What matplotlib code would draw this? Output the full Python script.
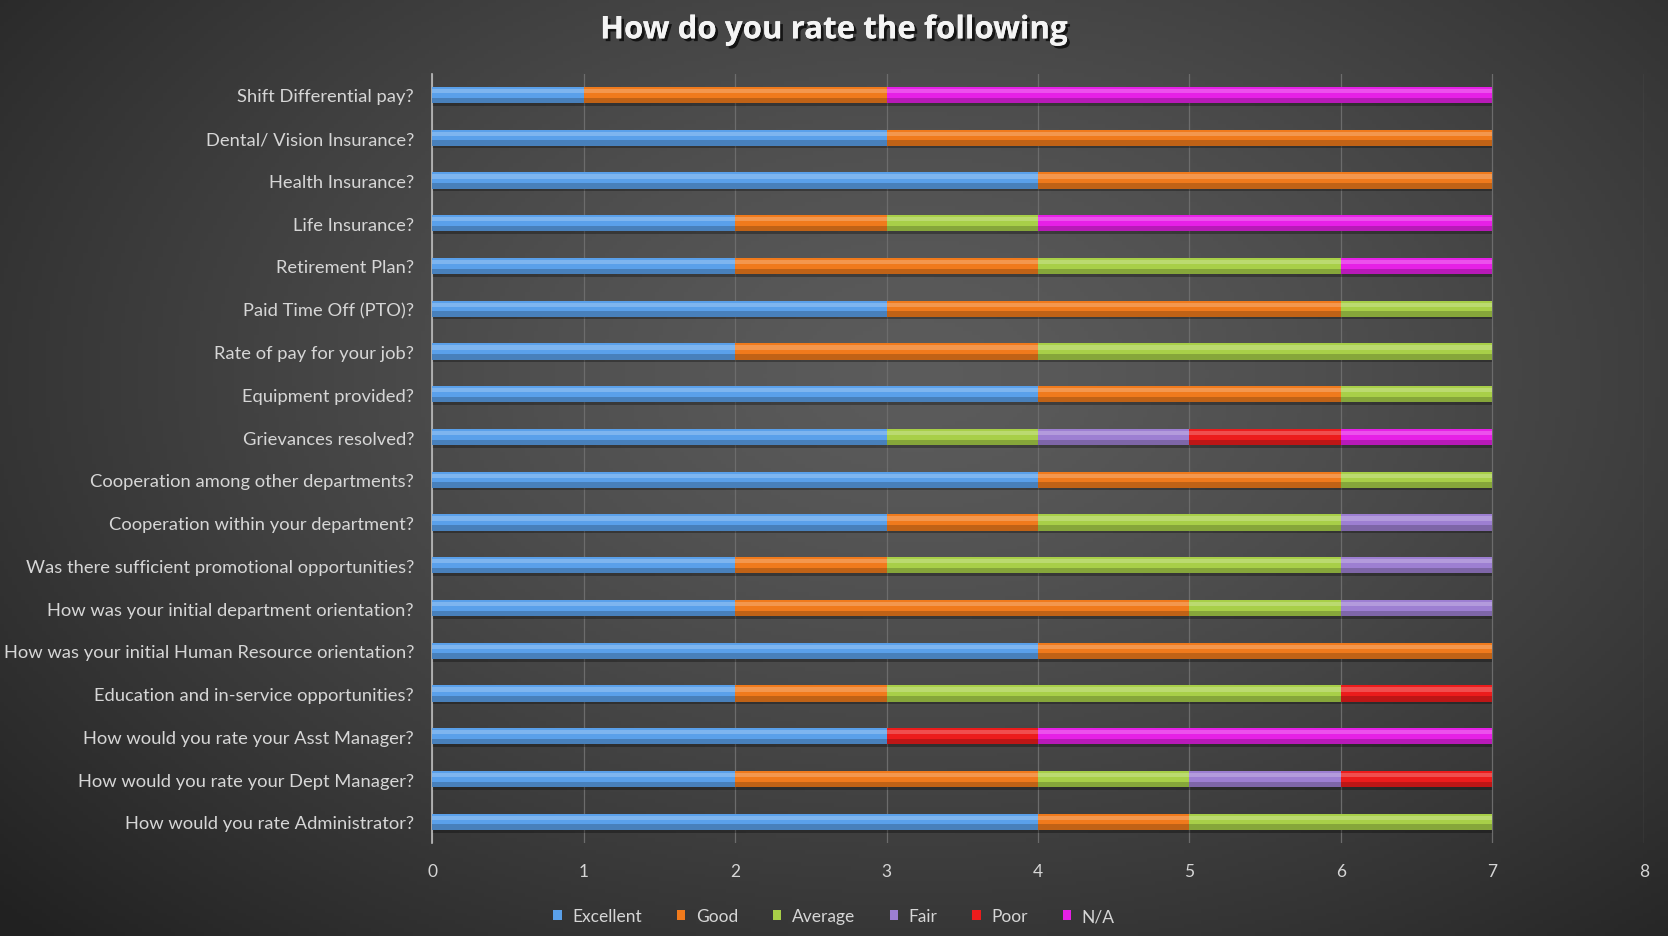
import numpy as np
import matplotlib
matplotlib.use("Agg")
import matplotlib.pyplot as plt
import matplotlib.patheffects as pe
from matplotlib.colors import to_rgb
from matplotlib.patches import Patch

plt.rcParams['font.family'] = ['Lato', 'DejaVu Sans']

questions = [
    "Shift Differential pay?",
    "Dental/ Vision Insurance?",
    "Health Insurance?",
    "Life Insurance?",
    "Retirement Plan?",
    "Paid Time Off (PTO)?",
    "Rate of pay for your job?",
    "Equipment provided?",
    "Grievances resolved?",
    "Cooperation among other departments?",
    "Cooperation within your department?",
    "Was there sufficient promotional opportunities?",
    "How was your initial department orientation?",
    "How was your initial Human Resource orientation?",
    "Education and in-service opportunities?",
    "How would you rate your Asst Manager?",
    "How would you rate your Dept Manager?",
    "How would you rate Administrator?",
]

ratings = ["Excellent", "Good", "Average", "Fair", "Poor", "N/A"]

excellent = [1, 3, 4, 2, 2, 3, 2, 4, 3, 4, 3, 2, 2, 4, 2, 3, 2, 4]
good      = [2, 4, 3, 1, 2, 3, 2, 2, 0, 2, 1, 1, 3, 3, 1, 0, 2, 1]
average   = [0, 0, 0, 1, 2, 1, 3, 1, 1, 1, 2, 3, 1, 0, 3, 0, 1, 2]
fair      = [0, 0, 0, 0, 0, 0, 0, 0, 1, 0, 1, 1, 1, 0, 0, 0, 1, 0]
poor      = [0, 0, 0, 0, 0, 0, 0, 0, 1, 0, 0, 0, 0, 0, 1, 1, 1, 0]
na        = [4, 0, 0, 3, 1, 0, 0, 0, 1, 0, 0, 0, 0, 0, 0, 3, 0, 0]

colors = ["#5aa0ea", "#f07a1c", "#a8cf48", "#9d7fd2", "#ec1c1c", "#e620e6"]


def mix(c, other, t):
    c = np.array(to_rgb(c))
    return tuple(c * (1 - t) + np.array(other) * t)


fig = plt.figure(figsize=(16.68, 9.37), dpi=100)

# radial gradient background
bg = fig.add_axes([0, 0, 1, 1])
gx, gy = np.meshgrid(np.linspace(0, 1, 400), np.linspace(0, 1, 240))
r = np.sqrt(((gx - 0.55) / 0.75) ** 2 + ((gy - 0.6) / 0.85) ** 2)
shade = 0.36 - 0.23 * np.clip(r, 0, 1) ** 1.3
bg.imshow(np.dstack([shade] * 3), extent=[0, 1, 0, 1], aspect='auto', origin='lower')
bg.set_axis_off()

ax = fig.add_axes([0.259, 0.099, 0.7266, 0.8214])
ax.set_facecolor('none')

series = [excellent, good, average, fair, poor, na]
n = len(questions)
y = np.arange(n)[::-1]
h = 0.38
left = np.zeros(n)
for vals, col in zip(series, colors):
    vals = np.array(vals, dtype=float)
    # drop shadow, base, darker lower band and bright top highlight
    ax.barh(y - 0.06, vals, h, left=left, color='black', alpha=0.3, linewidth=0, zorder=2)
    ax.barh(y, vals, h, left=left, color=col, linewidth=0, zorder=3)
    ax.barh(y - h * 0.33, vals, h * 0.34, left=left, color=mix(col, (0, 0, 0), 0.2),
            linewidth=0, zorder=4)
    ax.barh(y + h * 0.25, vals, h * 0.26, left=left, color=mix(col, (1, 1, 1), 0.22),
            linewidth=0, zorder=4)
    left += vals

ax.set_xlim(0, 8)
ax.set_ylim(-0.5, n - 0.5)
ax.set_xticks(range(9))
ax.set_yticks(y)
ax.set_yticklabels(questions)
ax.tick_params(length=0, colors='#d6d6d6', labelsize=13.2)
ax.tick_params(axis='x', pad=14, labelsize=12.5)
ax.tick_params(axis='y', pad=13)
ax.grid(axis='x', color='#6c6c6c', linewidth=0.9, zorder=0)
ax.set_axisbelow(True)
for s in ['top', 'right', 'bottom']:
    ax.spines[s].set_visible(False)
ax.spines['left'].set_color('#bdbdbd')
ax.spines['left'].set_linewidth(1.2)

fig.text(0.5, 0.958, "How do you rate the following", ha='center', va='baseline',
         fontsize=22.5, fontweight='bold', color='#f4f4f4', family=['Open Sans', 'DejaVu Sans'],
         path_effects=[pe.withSimplePatchShadow(offset=(2, -2), shadow_rgbFace='black', alpha=0.7),
                       pe.Normal()])

handles = [Patch(facecolor=c, edgecolor='none') for c in colors]
fig.legend(handles, ratings, loc='lower center', bbox_to_anchor=(0.5, -0.004), ncol=6,
           frameon=False, labelcolor='#d6d6d6', fontsize=12.5, handlelength=0.5,
           handleheight=0.5, handletextpad=0.6, columnspacing=2.0)

fig.savefig("out.png", dpi=100)
